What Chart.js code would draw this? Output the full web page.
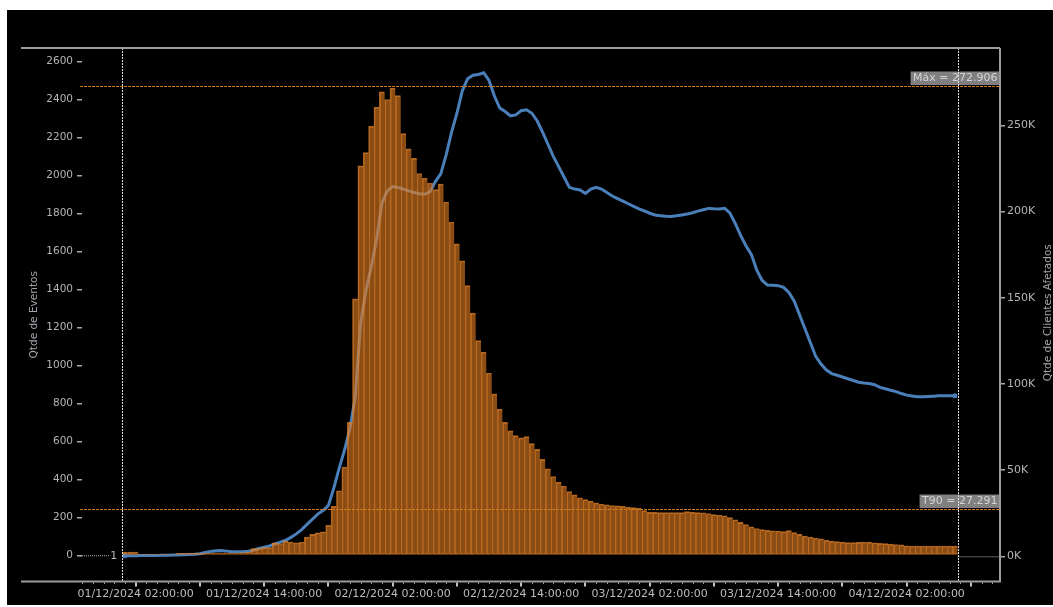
<!DOCTYPE html>
<html>
<head>
<meta charset="utf-8">
<script src="https://cdn.jsdelivr.net/npm/chart.js@4.4.1/dist/chart.umd.min.js"></script>
<style>
  html, body { margin: 0; padding: 0; background: #fff; }
  #wrap { position: absolute; left: 7px; top: 10px; width: 1046px; height: 595px; background: #000; }
</style>
</head>
<body>
<div id="wrap"><canvas id="canvas" width="1046" height="595"></canvas></div>
<script>
"use strict";
// half-hour buckets, hours counted from 01/12/2024 00:00
const firstHour = 1;
const stepHours = 0.5;

// Qtde de Eventos per bucket (left axis)
const eventCounts = [
  17, 17, 15, 3, 2, 2, 3, 3, 3, 4,
  10, 10, 11, 10, 12, 12, 12, 13, 12, 13,
  12, 13, 14, 15, 35, 35, 40, 40, 65, 62,
  75, 70, 65, 70, 96, 110, 118, 123, 158, 258,
  340, 465, 700, 1350, 2050, 2120, 2260, 2360, 2440, 2400,
  2460, 2420, 2220, 2140, 2090, 2010, 1985, 1960, 1925, 1955,
  1860, 1755, 1640, 1550, 1420, 1275, 1130, 1070, 960, 850,
  770, 700, 655, 630, 618, 625, 588, 558, 505, 455,
  415, 385, 365, 336, 318, 303, 293, 285, 276, 270,
  266, 262, 260, 258, 254, 251, 247, 235, 226, 226,
  225, 225, 225, 225, 225, 230, 226, 225, 224, 220,
  214, 212, 208, 198, 187, 173, 162, 150, 141, 135,
  131, 129, 128, 125, 130, 119, 110, 101, 96, 91,
  87, 80, 75, 72, 69, 67, 67, 68, 70, 69,
  66, 63, 61, 59, 57, 55, 50, 49, 49, 49,
  49, 49, 49, 49, 49, 49
];

// Qtde de Clientes Afetados, in thousands (right axis)
const affectedClientsK = [
  0.3, 0.3, 0.3, 0.4, 0.4, 0.5, 0.5, 0.6, 0.6, 0.7,
  0.8, 0.9, 1.0, 1.2, 1.5, 2.2, 2.8, 3.2, 3.3, 3.0,
  2.7, 2.6, 2.7, 2.9, 3.5, 4.6, 5.3, 6.0, 7.2, 8.2,
  9.3, 11.0, 13.0, 15.5, 18.5, 21.5, 24.5, 26.5, 29.5, 39.5,
  51, 61.5, 74, 92, 135, 154, 168, 184, 205, 212,
  214.5, 214, 213, 212, 211, 210.3, 210, 211.5, 217.5, 222,
  233, 246, 257, 270, 277, 279, 279.5, 280.5, 276, 267,
  260, 258, 255.5, 256, 258.5, 259, 257, 252.5, 246, 239,
  232, 226, 220, 214, 213, 212.5, 210.5, 213, 214, 213,
  211, 209, 207.5, 206, 204.5, 203, 201.5, 200.3, 199, 198,
  197.6, 197.2, 197.1, 197.5, 198, 198.5, 199.3, 200.2, 201, 201.8,
  201.6, 201.5, 201.9, 199, 193, 186, 180, 175, 166, 160,
  157.3, 157.2, 157, 156, 153, 148, 140, 132, 124, 116,
  111.5, 108, 106, 105, 104, 103, 102, 101, 100.5, 100.2,
  99.5, 98, 97.2, 96.3, 95.5, 94.4, 93.5, 93, 92.5, 92.5,
  92.7, 92.9, 93.1, 93.1, 93.1, 93.1
];

const xTickHours = [2, 14, 26, 38, 50, 62, 74];
const xTickLabels = [
  '01/12/2024 02:00:00', '01/12/2024 14:00:00', '02/12/2024 02:00:00',
  '02/12/2024 14:00:00', '03/12/2024 02:00:00', '03/12/2024 14:00:00',
  '04/12/2024 02:00:00'
];
const leftTicks = [0, 200, 400, 600, 800, 1000, 1200, 1400, 1600, 1800, 2000, 2200, 2400, 2600];
const rightTicks = [0, 50, 100, 150, 200, 250];

const maxClients = 272906;
const t90Clients = 27291;

function fmtBR(v) {
  return String(v).replace(/\B(?=(\d{3})+(?!\d))/g, '.');
}

const barPoints = eventCounts.map(function(v, i){ return {x: firstHour + i * stepHours, y: v}; });
const linePoints = affectedClientsK.map(function(v, i){ return {x: firstHour + i * stepHours, y: v}; });

Chart.defaults.font.family = "'DejaVu Sans', Verdana, sans-serif";
Chart.defaults.color = '#b4b4b4';

function hline(ctx, x1, y, x2) {
  ctx.beginPath(); ctx.moveTo(x1, y); ctx.lineTo(x2, y); ctx.stroke();
}
function vline(ctx, x, y1, y2) {
  ctx.beginPath(); ctx.moveTo(x, y1); ctx.lineTo(x, y2); ctx.stroke();
}

const overlay = {
  id: 'overlay',
  afterDatasetsDraw(chart) {
    const ctx = chart.ctx, a = chart.chartArea;
    const x = chart.scales.x, y = chart.scales.y, y1 = chart.scales.y1;
    const startX = x.getPixelForValue(firstHour - stepHours / 2);
    const endX = x.getPixelForValue(firstHour + (eventCounts.length - 0.5) * stepHours);
    ctx.save();

    // dotted zero baseline outside the data span
    ctx.strokeStyle = '#bdbdbd';
    ctx.lineWidth = 1;
    ctx.setLineDash([1, 1]);
    hline(ctx, a.left - 2, y.getPixelForValue(0) + 0.5, startX - 12);
    hline(ctx, endX, y1.getPixelForValue(0) + 0.5, a.right);
    ctx.setLineDash([]);
    ctx.fillStyle = '#b4b4b4';
    ctx.font = "11px 'DejaVu Sans'";
    ctx.textAlign = 'right';
    ctx.textBaseline = 'middle';
    ctx.fillText('1', startX - 5, y.getPixelForValue(0) + 0.5);

    // reference lines with their boxes
    [['Máx = ' + fmtBR(maxClients), maxClients], ['T90 = ' + fmtBR(t90Clients), t90Clients]].forEach(function(r){
      const ly = Math.round(y1.getPixelForValue(r[1] / 1000)) + 0.5;
      ctx.strokeStyle = '#d07a20';
      ctx.lineWidth = 1;
      ctx.setLineDash([3, 1]);
      hline(ctx, a.left - 2, ly, a.right);
      ctx.setLineDash([]);
      const tw = ctx.measureText(r[0]).width;
      const bw = tw + 5, bh = 13.5;
      ctx.fillStyle = '#808080';
      ctx.fillRect(a.right - bw, ly - 1.5 - bh, bw, bh);
      ctx.fillStyle = '#d4d4d4';
      ctx.textAlign = 'left';
      ctx.fillText(r[0], a.right - bw + 2.5, ly - 1.5 - bh / 2);
    });

    // start / end of data
    ctx.strokeStyle = '#e2e2e2';
    ctx.lineWidth = 1;
    ctx.setLineDash([2, 1]);
    vline(ctx, Math.round(startX) + 0.5, a.top, a.bottom);
    vline(ctx, Math.round(endX) + 0.5, a.top, a.bottom);
    ctx.restore();
  },
  afterDraw(chart) {
    const ctx = chart.ctx, a = chart.chartArea, x = chart.scales.x;
    ctx.save();
    ctx.strokeStyle = '#9c9c9c';
    ctx.lineWidth = 2;
    hline(ctx, 14, a.top, a.right);
    hline(ctx, 14, a.bottom, a.right + 1);
    vline(ctx, a.right, a.top, a.bottom);

    // hourly minor ticks, 6-hourly major ticks
    for (let h = Math.ceil(x.min); h <= Math.floor(x.max); h++) {
      const px = Math.round(x.getPixelForValue(h));
      if (px > a.right - 3) continue;
      const major = ((h - 2) % 6 + 6) % 6 === 0;
      ctx.strokeStyle = major ? '#c4c4c4' : '#a8a8a8';
      ctx.lineWidth = major ? 2 : 1;
      vline(ctx, major ? px : px + 0.5, a.bottom + 1, a.bottom + (major ? 5 : 2.5));
    }

    // right title reads bottom-to-top
    ctx.translate(1041, (a.top + a.bottom) / 2 - 2);
    ctx.rotate(-Math.PI / 2);
    ctx.fillStyle = '#a4a4ac';
    ctx.font = "10.5px 'DejaVu Sans'";
    ctx.textAlign = 'center';
    ctx.textBaseline = 'middle';
    ctx.fillText('Qtde de Clientes Afetados', 0, 0);
    ctx.restore();
  }
};

new Chart(document.getElementById('canvas'), {
  type: 'bar',
  data: {
    datasets: [{
      type: 'bar',
      label: 'Qtde de Eventos',
      data: barPoints,
      xAxisID: 'x',
      yAxisID: 'y',
      backgroundColor: 'rgba(222, 122, 34, 0.63)',
      borderColor: 'rgba(232, 136, 45, 0.72)',
      borderWidth: {top: 1, left: 1, right: 0, bottom: 1},
      borderSkipped: false,
      barPercentage: 1,
      categoryPercentage: 1,
      order: 0
    }, {
      type: 'line',
      label: 'Qtde de Clientes Afetados',
      data: linePoints,
      xAxisID: 'x',
      yAxisID: 'y1',
      borderColor: '#4a7fba',
      backgroundColor: '#4a7fba',
      borderWidth: 3,
      tension: 0,
      fill: false,
      pointRadius: function(c){ return (c.dataIndex === 0 || c.dataIndex === affectedClientsK.length - 1) ? 2.5 : 0; },
      pointBorderWidth: 0,
      order: 1
    }]
  },
  options: {
    responsive: false,
    animation: false,
    layout: { padding: {top: 38, left: 0, right: 0, bottom: 0} },
    plugins: {
      legend: { display: false },
      tooltip: { enabled: false }
    },
    scales: {
      x: {
        type: 'linear',
        offset: false,
        min: -3.01,
        max: 82.71,
        grid: { display: false, drawTicks: false },
        border: { display: false },
        afterBuildTicks: function(s){ s.ticks = xTickHours.map(function(v){ return {value: v}; }); },
        afterFit: function(s){ s.height = 23.5; },
        ticks: {
          autoSkip: false,
          maxRotation: 0,
          padding: 6,
          color: '#bdbdbd',
          font: { size: 11 },
          callback: function(v){ const i = xTickHours.indexOf(v); return i < 0 ? '' : xTickLabels[i]; }
        }
      },
      y: {
        position: 'left',
        min: -138,
        max: 2671,
        afterBuildTicks: function(s){ s.ticks = leftTicks.map(function(v){ return {value: v}; }); },
        afterFit: function(s){ s.width = 75; },
        grid: { drawOnChartArea: false, drawTicks: true, tickLength: 5, color: '#a8a8a8', lineWidth: 1.5 },
        border: { display: false },
        ticks: { padding: 4, font: { size: 10.5 }, callback: function(v){ return String(v); } },
        title: { display: true, text: 'Qtde de Eventos', color: '#a4a4ac', font: { size: 10.5 }, padding: {top: 21, bottom: 0} }
      },
      y1: {
        position: 'right',
        min: -14.617,
        max: 294.838,
        afterBuildTicks: function(s){ s.ticks = rightTicks.map(function(v){ return {value: v}; }); },
        afterFit: function(s){ s.width = 53; },
        grid: { drawOnChartArea: false, drawTicks: true, tickLength: 5, color: '#a8a8a8', lineWidth: 1.5 },
        border: { display: false },
        ticks: { padding: 2, font: { size: 11 }, callback: function(v){ return v + 'K'; } },
        title: { display: false }
      }
    }
  },
  plugins: [overlay]
});
</script>
</body>
</html>
